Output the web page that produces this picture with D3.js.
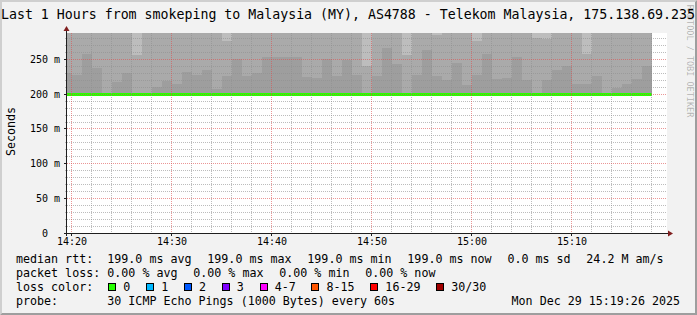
<!DOCTYPE html>
<html>
<head>
<meta charset="utf-8">
<script src="https://cdn.jsdelivr.net/npm/d3@7"></script>
<style>
  body { margin: 0; background: #fff; }
  svg { display: block; }
  text { font-family: "DejaVu Sans Mono", monospace; }
</style>
</head>
<body>
<script>
// chart values
const titleText = "Last 1 Hours from smokeping to Malaysia (MY), AS4788 - Telekom Malaysia, 175.138.69.235";
const yLabel = "Seconds";
const watermark = "RRDTOOL / TOBI OETIKER";

// one entry per 60s step, 14:19 .. 15:17
const medianRtt = [
  199, 199, 199, 199, 199, 199, 199, 199, 199, 199,
  199, 199, 199, 199, 199, 199, 199, 199, 199, 199,
  199, 199, 199, 199, 199, 199, 199, 199, 199, 199,
  199, 199, 199, 199, 199, 199, 199, 199, 199, 199,
  199, 199, 199, 199, 199, 199, 199, 199, 199, 199,
  199, 199, 199, 199, 199, 199, 199, 199, 199
];
const lossCount = [
  0, 0, 0, 0, 0, 0, 0, 0, 0, 0,
  0, 0, 0, 0, 0, 0, 0, 0, 0, 0,
  0, 0, 0, 0, 0, 0, 0, 0, 0, 0,
  0, 0, 0, 0, 0, 0, 0, 0, 0, 0,
  0, 0, 0, 0, 0, 0, 0, 0, 0, 0,
  0, 0, 0, 0, 0, 0, 0, 0, 0
];
// top of the dense (dark) part of the smoke, ms
const smokeInner = [
  230, 227, 257, 237, 201, 217, 229, 201, 201, 210,
  218, 214, 231, 227, 234, 207, 226, 249, 225, 230,
  252, 252, 252, 252, 224, 223, 250, 226, 248, 227,
  201, 225, 266, 242, 201, 227, 263, 225, 220, 244,
  212, 227, 257, 221, 223, 253, 220, 201, 220, 234,
  239, 214, 214, 226, 201, 208, 214, 221, 240
];
// where the sparse (light) outer smoke begins, ms (null = above the top)
const smokeOuter = [
  null, null, null, null, null, null, null, 255, null, null,
  null, null, null, null, null, null, 275, null, null, null,
  null, null, null, null, null, null, null, null, null, null,
  240, null, null, null, 256, null, null, 284, null, null,
  null, 275, null, null, null, null, null, 280, 279, null,
  null, null, 257, null, null, null, null, null, null
];

const yTickValues = [0, 50, 100, 150, 200, 250];
const yTickLabels = ["0\u00a0\u00a0", "50 m", "100 m", "150 m", "200 m", "250 m"];
const xTickLabels = ["14:20", "14:30", "14:40", "14:50", "15:00", "15:10"];

const rttLabel = "median rtt:";
const rttSummary = ["199.0 ms avg", "199.0 ms max", "199.0 ms min", "199.0 ms now", "0.0 ms sd", "24.2 M am/s"];
const lossLabel = "packet loss:";
const lossSummary = ["0.00 % avg", "0.00 % max", "0.00 % min", "0.00 % now"];
const colorLabel = "loss color:";
const lossBins = ["0", "1", "2", "3", "4-7", "8-15", "16-29", "30/30"];
const lossColors = ["#26ff00", "#00b8ff", "#0059ff", "#7e00ff", "#ff00ff", "#ff5500", "#ff0000", "#a10000"];
const probeLabel = "probe:";
const probeText = "30 ICMP Echo Pings (1000 Bytes) every 60s";
const stampText = "Mon Dec 29 15:19:26 2025";

const width = 697, height = 315;
const plot = { left: 67, right: 667, top: 33, bottom: 233 };
const day = (h, m, s = 0) => new Date(2025, 11, 29, h, m, s);

const steps = d3.timeMinute.range(day(14, 19), day(15, 18));
const x = d3.scaleTime([day(14, 19, 30), day(15, 19, 30)], [plot.left - 0.5, plot.right - 0.5]);
const y = d3.scaleLinear([0, 287], [plot.bottom, plot.top]);
const lossColor = (n) => lossColors[n === 0 ? 0 : n < 4 ? n : n < 8 ? 4 : n < 16 ? 5 : n < 30 ? 6 : 7];

const svg = d3.select("body").append("svg")
  .attr("width", width)
  .attr("height", height)
  .attr("viewBox", [0, 0, width, height]);

// background + 3d frame
svg.append("rect").attr("width", width).attr("height", height).attr("fill", "#f2f2f2");
svg.append("path").attr("fill", "#cfcfcf")
  .attr("d", `M0,0H${width}L${width - 2},2H2V${height - 2}L0,${height}Z`);
svg.append("path").attr("fill", "#9e9e9e")
  .attr("d", `M${width},0V${height}H0L2,${height - 2}H${width - 2}V2Z`);

svg.append("rect")
  .attr("x", plot.left).attr("y", plot.top)
  .attr("width", plot.right - plot.left).attr("height", plot.bottom - plot.top)
  .attr("fill", "#fff");

svg.append("clipPath").attr("id", "plot")
  .append("rect")
  .attr("x", plot.left).attr("y", plot.top)
  .attr("width", plot.right - plot.left).attr("height", plot.bottom - plot.top);

// smoke
const colX = (i) => Math.ceil(x(steps[i]));
const colW = (i) => Math.ceil(x(d3.timeMinute.offset(steps[i], 1))) - colX(i);
const smoke = svg.append("g").attr("clip-path", "url(#plot)").attr("shape-rendering", "crispEdges");

smoke.append("g").attr("fill", "#aaaaaa")
  .selectAll("rect").data(d3.range(steps.length)).join("rect")
  .attr("x", colX).attr("width", colW)
  .attr("y", y.range()[1])
  .attr("height", (i) => Math.round(y(medianRtt[i])) - y.range()[1]);

smoke.append("g").attr("fill", "#bdbdbd")
  .selectAll("rect").data(d3.range(steps.length).filter((i) => smokeOuter[i] != null)).join("rect")
  .attr("x", colX).attr("width", colW)
  .attr("y", y.range()[1])
  .attr("height", (i) => Math.round(y(smokeOuter[i])) - y.range()[1]);

smoke.append("g").attr("fill", "#9e9e9e")
  .selectAll("rect").data(d3.range(steps.length)).join("rect")
  .attr("x", colX).attr("width", colW)
  .attr("y", (i) => Math.round(y(smokeInner[i])))
  .attr("height", (i) => Math.round(y(medianRtt[i])) - Math.round(y(smokeInner[i])));

// median line, coloured by loss
smoke.append("g").attr("stroke-width", 3)
  .selectAll("line").data(d3.range(steps.length)).join("line")
  .attr("x1", colX).attr("x2", (i) => colX(i) + colW(i))
  .attr("y1", (i) => Math.round(y(medianRtt[i])) + 0.5)
  .attr("y2", (i) => Math.round(y(medianRtt[i])) + 0.5)
  .attr("stroke", (i) => lossColor(lossCount[i]));

// grid
const grid = svg.append("g").attr("shape-rendering", "crispEdges").attr("stroke-dasharray", "1,1");
const minorColor = "rgba(143,143,143,0.6)";
const majorColor = "rgba(222,80,80,0.6)";
const yMinor = d3.range(10, 287, 10).filter((v) => v % 50 !== 0);
const xMajor = xTickLabels.map((s) => day(+s.slice(0, 2), +s.slice(3)));
const xMinor = d3.timeMinute.every(2).range(day(14, 20), day(15, 19, 30))
  .filter((t) => t.getMinutes() % 10 !== 0);
const yl = (v) => Math.round(y(v)) + 0.5;

grid.selectAll(".ymin").data(yMinor).join("line")
  .attr("x1", plot.left - 2).attr("x2", plot.right)
  .attr("y1", yl).attr("y2", yl).attr("stroke", minorColor);
grid.selectAll(".xmin").data(xMinor).join("line")
  .attr("x1", (t) => x(t)).attr("x2", (t) => x(t))
  .attr("y1", plot.top).attr("y2", plot.bottom + 2).attr("stroke", minorColor);
grid.selectAll(".ymaj").data(yTickValues.slice(1)).join("line")
  .attr("x1", plot.left - 2).attr("x2", plot.right)
  .attr("y1", yl).attr("y2", yl).attr("stroke", majorColor);
grid.selectAll(".xmaj").data(xMajor).join("line")
  .attr("x1", (t) => x(t)).attr("x2", (t) => x(t))
  .attr("y1", plot.top).attr("y2", plot.bottom + 2).attr("stroke", majorColor);

// axes with arrows
const axis = svg.append("g").attr("shape-rendering", "crispEdges").attr("stroke", "#1f1f1f");
axis.append("line").attr("x1", plot.left - 0.5).attr("x2", plot.left - 0.5)
  .attr("y1", plot.bottom + 3).attr("y2", plot.top - 3);
axis.append("line").attr("y1", plot.bottom + 0.5).attr("y2", plot.bottom + 0.5)
  .attr("x1", plot.left - 3).attr("x2", plot.right + 3);
axis.selectAll(".yt").data(yTickValues).join("line")
  .attr("x1", plot.left - 3).attr("x2", plot.left).attr("y1", yl).attr("y2", yl);
axis.selectAll(".xt").data(xMajor).join("line")
  .attr("x1", (t) => x(t)).attr("x2", (t) => x(t)).attr("y1", plot.bottom).attr("y2", plot.bottom + 3);
svg.append("path").attr("fill", "#801f1f")
  .attr("d", `M${plot.left - 3.5},${plot.top - 2}L${plot.left - 0.5},${plot.top - 7}L${plot.left + 2.5},${plot.top - 2}Z`);
svg.append("path").attr("fill", "#801f1f")
  .attr("d", `M${plot.right + 1},${plot.bottom - 2.5}L${plot.right + 6},${plot.bottom + 0.5}L${plot.right + 1},${plot.bottom + 3.5}Z`);

// tick labels
svg.append("g").attr("font-size", 10).attr("text-anchor", "end").attr("fill", "#000")
  .selectAll("text").data(yTickValues).join("text")
  .attr("x", 60).attr("y", (v) => yl(v) + 3.5)
  .text((v, i) => yTickLabels[i]);
svg.append("g").attr("font-size", 10).attr("text-anchor", "middle").attr("fill", "#000")
  .selectAll("text").data(xMajor).join("text")
  .attr("x", (t) => x(t) + 0.5).attr("y", 245)
  .text((t, i) => xTickLabels[i]);

// titles
svg.append("text").attr("x", 348).attr("y", 18.5).attr("font-size", 13.25)
  .attr("text-anchor", "middle").text(titleText);
svg.append("text").attr("transform", "translate(15,131.5) rotate(-90)")
  .attr("font-size", 11.66).attr("text-anchor", "middle").text(yLabel);
svg.append("text").attr("transform", "translate(687,61) rotate(90)")
  .attr("font-size", 8.5).attr("text-anchor", "middle").attr("fill", "rgba(0,0,0,0.28)")
  .text(watermark);

// legend
const legend = svg.append("g").attr("font-size", 11.66).attr("fill", "#000");
const valueX = 107.3, gap = 15.8;
const rowY = [262.5, 276.5, 290.5, 304.5];

function textRow(yy, label, items) {
  legend.append("text").attr("x", 16).attr("y", yy).text(label);
  let xx = valueX;
  items.forEach((s) => {
    const t = legend.append("text").attr("x", xx).attr("y", yy).text(s);
    xx += t.node().getComputedTextLength() + gap;
  });
}
textRow(rowY[0], rttLabel, rttSummary);
textRow(rowY[1], lossLabel, lossSummary);

legend.append("text").attr("x", 16).attr("y", rowY[2]).text(colorLabel);
let bx = valueX + 1;
lossBins.forEach((b, i) => {
  legend.append("rect")
    .attr("x", Math.round(bx) + 0.5).attr("y", rowY[2] - 7)
    .attr("width", 7).attr("height", 7)
    .attr("fill", lossColors[i]).attr("stroke", "#000").attr("stroke-width", 1);
  const t = legend.append("text").attr("x", bx + 15).attr("y", rowY[2]).text(b);
  bx += 15 + t.node().getComputedTextLength() + gap;
});

legend.append("text").attr("x", 16).attr("y", rowY[3]).text(probeLabel);
legend.append("text").attr("x", valueX).attr("y", rowY[3]).text(probeText);
legend.append("text").attr("x", 680).attr("y", rowY[3]).attr("text-anchor", "end").text(stampText);
</script>
</body>
</html>
